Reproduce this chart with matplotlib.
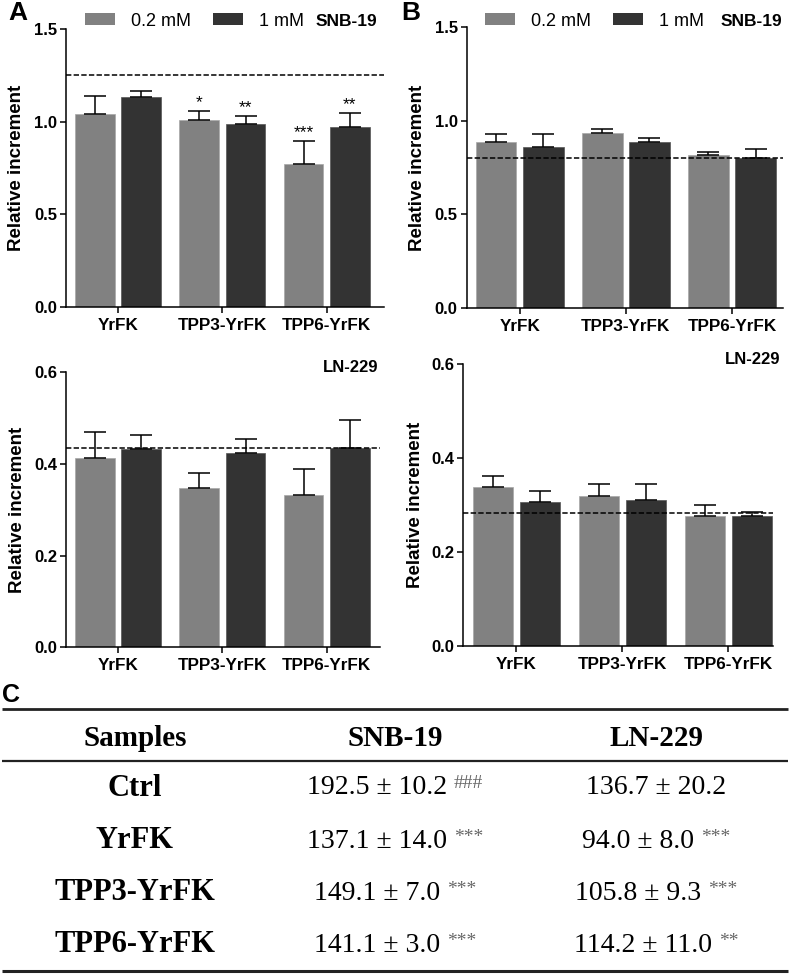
import matplotlib
matplotlib.use('Agg')
import matplotlib.pyplot as plt
import numpy as np
from matplotlib.patches import Patch
from matplotlib.offsetbox import TextArea, HPacker, AnnotationBbox

groups = ['YrFK', 'TPP3-YrFK', 'TPP6-YrFK']
doses = ['0.2 mM', '1 mM']

# A, SNB-19
a_snb_low = [1.04, 1.01, 0.77]
a_snb_low_err = [0.10, 0.045, 0.125]
a_snb_high = [1.135, 0.985, 0.97]
a_snb_high_err = [0.03, 0.045, 0.075]
a_snb_ctrl = 1.25
a_snb_stars_low = ['', '*', '***']
a_snb_stars_high = ['', '**', '**']

# A, LN-229
a_ln_low = [0.413, 0.348, 0.332]
a_ln_low_err = [0.057, 0.033, 0.058]
a_ln_high = [0.432, 0.423, 0.434]
a_ln_high_err = [0.031, 0.032, 0.061]
a_ln_ctrl = 0.435

# B, SNB-19
b_snb_low = [0.884, 0.932, 0.815]
b_snb_low_err = [0.043, 0.025, 0.02]
b_snb_high = [0.861, 0.888, 0.802]
b_snb_high_err = [0.07, 0.02, 0.048]
b_snb_ctrl = 0.80

# B, LN-229
b_ln_low = [0.338, 0.319, 0.277]
b_ln_low_err = [0.023, 0.026, 0.023]
b_ln_high = [0.307, 0.311, 0.276]
b_ln_high_err = [0.023, 0.034, 0.01]
b_ln_ctrl = 0.284

# C, table
table_cols = ['Samples', 'SNB-19', 'LN-229']
table_rows = ['Ctrl', 'YrFK', 'TPP3-YrFK', 'TPP6-YrFK']
snb_vals = ['192.5 ± 10.2', '137.1 ± 14.0', '149.1 ± 7.0', '141.1 ± 3.0']
snb_marks = ['###', '***', '***', '***']
ln_vals = ['136.7 ± 20.2', '94.0 ± 8.0', '105.8 ± 9.3', '114.2 ± 11.0']
ln_marks = ['', '***', '***', '**']

GRAY = '#818181'
DARK = '#333333'
W, H = 790.0, 974.0

plt.rcParams['font.family'] = ['Liberation Sans', 'DejaVu Sans']

fig = plt.figure(figsize=(7.9, 9.74), dpi=100)


def px_box(x0, y_top, x1, y_bot):
    return [x0 / W, 1 - y_bot / H, (x1 - x0) / W, (y_bot - y_top) / H]


def draw_panel(ax, low, low_err, high, high_err, ctrl, ymax, yticks, xmax,
               stars_low=None, stars_high=None):
    x = np.arange(len(groups))
    off = 0.222
    bw = 0.38
    ax.bar(x - off, low, bw, color=GRAY, edgecolor='#a8a8a8', linewidth=0.5, zorder=2)
    ax.bar(x + off, high, bw, color=DARK, edgecolor='#555555', linewidth=0.5, zorder=2)
    ax.errorbar(x - off, low, yerr=[np.zeros(len(low)), low_err], fmt='none',
                ecolor='black', elinewidth=1.1, capsize=8, capthick=1.1, zorder=3)
    ax.errorbar(x + off, high, yerr=[np.zeros(len(high)), high_err], fmt='none',
                ecolor='black', elinewidth=1.1, capsize=8, capthick=1.1, zorder=3)
    ax.axhline(ctrl, color='black', lw=1.1, ls=(0, (3.5, 1.5)), zorder=4)

    if stars_low is not None:
        for i in range(len(x)):
            if stars_low[i]:
                ax.text(x[i] - off, low[i] + low_err[i] + ymax * 0.004, stars_low[i],
                        ha='center', va='bottom', fontsize=12.5)
            if stars_high[i]:
                ax.text(x[i] + off, high[i] + high_err[i] + ymax * 0.004, stars_high[i],
                        ha='center', va='bottom', fontsize=12.5)

    ax.set_xlim(-0.5, xmax)
    ax.set_ylim(0, ymax)
    ax.set_yticks(yticks)
    ax.set_yticklabels(['%.1f' % t for t in yticks], fontweight='bold', fontsize=12)
    ax.set_xticks(x)
    ax.set_xticklabels(groups, fontweight='bold', fontsize=12.3)
    ax.tick_params(axis='both', direction='out', length=4.5, width=1.1, pad=2)
    ax.tick_params(axis='x', pad=3.5)
    for s in ['top', 'right']:
        ax.spines[s].set_visible(False)
    for s in ['left', 'bottom']:
        ax.spines[s].set_linewidth(1.1)
    ax.set_ylabel('Relative increment', fontweight='bold', fontsize=13.5)
    ax.yaxis.set_label_coords(-0.155, 0.5)
    ax.yaxis.label.set_va('center')


ax1 = fig.add_axes(px_box(66, 29, 384, 307))
draw_panel(ax1, a_snb_low, a_snb_low_err, a_snb_high, a_snb_high_err, a_snb_ctrl,
           1.5, [0.0, 0.5, 1.0, 1.5], 2.55, a_snb_stars_low, a_snb_stars_high)

ax2 = fig.add_axes(px_box(466.7, 26.7, 783, 308.3))
draw_panel(ax2, b_snb_low, b_snb_low_err, b_snb_high, b_snb_high_err, b_snb_ctrl,
           1.5, [0.0, 0.5, 1.0, 1.5], 2.48)

ax3 = fig.add_axes(px_box(66, 372.3, 380, 647.3))
draw_panel(ax3, a_ln_low, a_ln_low_err, a_ln_high, a_ln_high_err, a_ln_ctrl,
           0.6, [0.0, 0.2, 0.4, 0.6], 2.51)

ax4 = fig.add_axes(px_box(463.3, 364, 773, 646))
draw_panel(ax4, b_ln_low, b_ln_low_err, b_ln_high, b_ln_high_err, b_ln_ctrl,
           0.6, [0.0, 0.2, 0.4, 0.6], 2.42)

# legends on top panels
handles = [Patch(facecolor=GRAY, edgecolor='none', label=doses[0]),
           Patch(facecolor=DARK, edgecolor='none', label=doses[1])]
for ax, lx, sx in [(ax1, 85, 316), (ax2, 485, 721)]:
    ax.legend(handles=handles, loc='center left', ncol=2, frameon=False,
              bbox_to_anchor=(lx / W, 1 - 21 / H), bbox_transform=fig.transFigure,
              borderpad=0, borderaxespad=0, handlelength=1.66, handleheight=0.66,
              handletextpad=0.9, columnspacing=1.2, fontsize=13)
    fig.text(sx / W, 1 - 21 / H, 'SNB-19', fontweight='bold', fontsize=12.5,
             ha='left', va='center')

fig.text(323 / W, 1 - 367 / H, 'LN-229', fontweight='bold', fontsize=12, ha='left', va='center')
fig.text(725 / W, 1 - 359 / H, 'LN-229', fontweight='bold', fontsize=12, ha='left', va='center')

fig.text(8 / W, 1 - 1 / H, 'A', fontweight='bold', fontsize=19, ha='left', va='top')
fig.text(401 / W, 1 - 1 / H, 'B', fontweight='bold', fontsize=19, ha='left', va='top')
fig.text(2 / W, 1 - 683 / H, 'C', fontweight='bold', fontsize=18, ha='left', va='top')

# table C drawn in pixel coordinates
tax = fig.add_axes([0, 0, 1, 1], zorder=-1)
tax.set_xlim(0, W)
tax.set_ylim(H, 0)
tax.axis('off')
tax.patch.set_visible(False)

tax.plot([2, 788], [709, 709], color='#222222', lw=2.0, solid_capstyle='butt')
tax.plot([2, 788], [761, 761], color='#222222', lw=1.6, solid_capstyle='butt')
tax.plot([2, 788], [971, 971], color='#222222', lw=2.2, solid_capstyle='butt')

serif = ['Liberation Serif', 'DejaVu Serif']
col_x = [135, 395, 656]
head_y = 738
row_y = [788, 841, 893, 945]

for cx, name in zip(col_x, table_cols):
    tax.text(cx, head_y, name, family=serif, fontweight='bold', fontsize=21,
             ha='center', va='center')


def value_cell(cx, cy, val, mark):
    main = TextArea(val, textprops=dict(family=serif, fontsize=20, color='black'))
    if mark:
        sup = TextArea(mark, textprops=dict(family=serif, fontsize=14, color='#666666'))
        box = HPacker(children=[main, sup], align='top', pad=0, sep=5)
    else:
        box = main
    ab = AnnotationBbox(box, (cx, cy), xycoords='data', frameon=False,
                        box_alignment=(0.5, 0.5), pad=0)
    tax.add_artist(ab)


for i, name in enumerate(table_rows):
    tax.text(col_x[0], row_y[i], name, family=serif, fontweight='bold', fontsize=22,
             ha='center', va='center')
    value_cell(col_x[1], row_y[i], snb_vals[i], snb_marks[i])
    value_cell(col_x[2], row_y[i], ln_vals[i], ln_marks[i])

fig.savefig('out.png', dpi=100)
